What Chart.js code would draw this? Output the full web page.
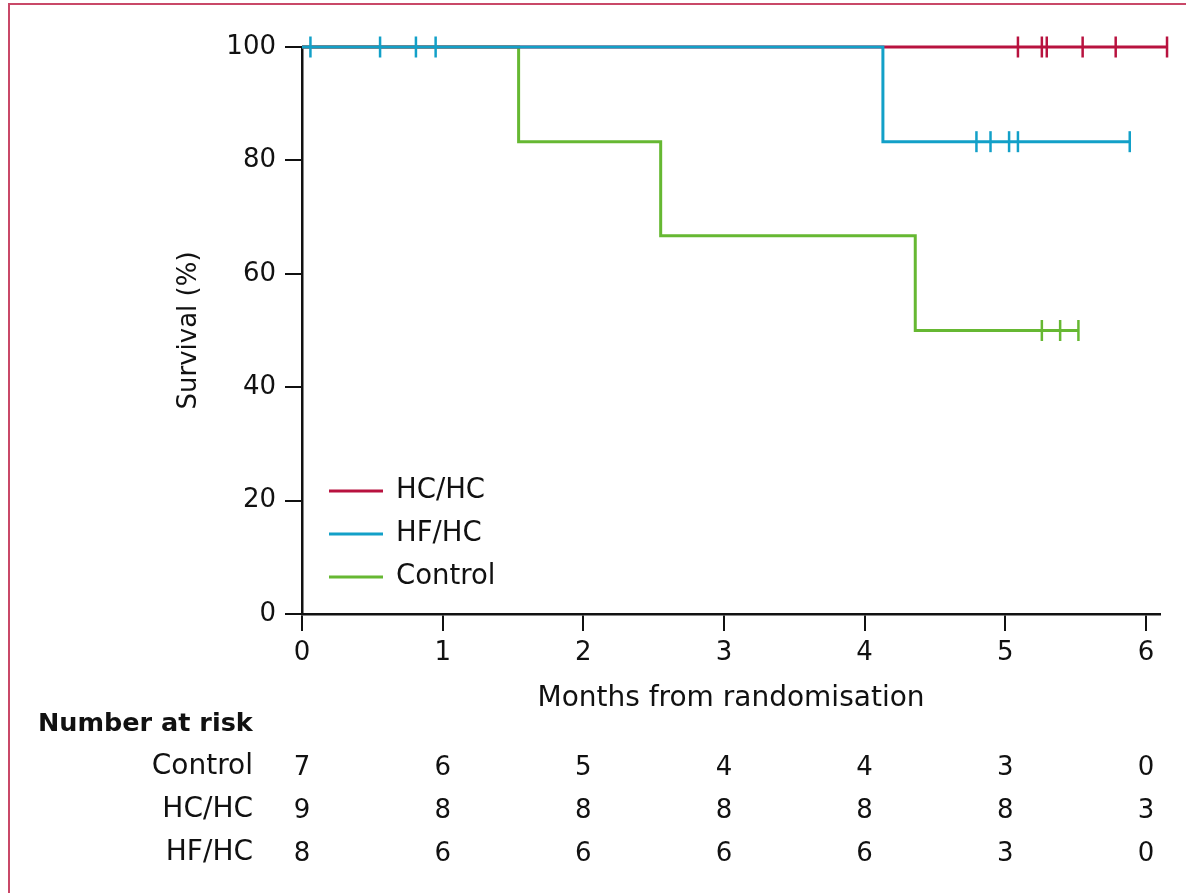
<!DOCTYPE html>
<html>
<head>
<meta charset="utf-8">
<script src="https://cdn.jsdelivr.net/npm/chart.js@4"></script>
<style>
  html, body { margin: 0; padding: 0; background: #fff; }
  #wrap { width: 1186px; height: 893px; position: relative; }
</style>
</head>
<body>
<div id="wrap"><canvas id="km"></canvas></div>
<script>
// Kaplan-Meier step data (months, survival %)
const controlTimes = [0, 1.54, 2.55, 4.36, 5.52];
const controlSurv = [100, 83.3, 66.7, 50, 50];
const controlCensor = [5.26, 5.39, 5.52];

const hchcTimes = [0, 6.15];
const hchcSurv = [100, 100];
const hchcCensor = [5.09, 5.26, 5.295, 5.55, 5.785, 6.15];

const hfhcTimes = [0, 4.13, 5.885];
const hfhcSurv = [100, 83.3, 83.3];
const hfhcCensor = [0.06, 0.555, 0.81, 0.95, 4.795, 4.895, 5.027, 5.09, 5.885];

// Number at risk table
const riskMonths = [0, 1, 2, 3, 4, 5, 6];
const riskGroups = ['Control', 'HC/HC', 'HF/HC'];
const riskControl = [7, 6, 5, 4, 4, 3, 0];
const riskHchc = [9, 8, 8, 8, 8, 8, 3];
const riskHfhc = [8, 6, 6, 6, 6, 3, 0];

const RED = '#b8123f';
const BLUE = '#12a0c8';
const GREEN = '#66b832';
const FONT = "'DejaVu Sans', sans-serif";

function toPoints(times, surv) {
  return times.map((t, i) => ({ x: t, y: surv[i] }));
}

// survival value of the step curve at time t
function survAt(times, surv, t) {
  let v = surv[0];
  for (let i = 0; i < times.length; i++) {
    if (times[i] <= t + 1e-9) v = surv[i];
  }
  return v;
}

function censorPoints(censor, times, surv) {
  return censor.map(t => ({ x: t, y: survAt(times, surv, t) }));
}

function stepSet(label, times, surv, color, order) {
  return {
    type: 'line',
    label: label,
    data: toPoints(times, surv),
    borderColor: color,
    backgroundColor: color,
    borderWidth: 3,
    stepped: true,
    pointRadius: 0,
    fill: false,
    clip: false,
    order: order,
    isCurve: true
  };
}

function censorSet(label, pts, color) {
  return {
    type: 'scatter',
    label: label,
    data: pts,
    borderColor: color,
    backgroundColor: color,
    pointStyle: 'line',
    rotation: 90,
    pointRadius: 10.5,
    pointBorderWidth: 2.5,
    showLine: false,
    clip: false,
    order: -1
  };
}

// legend drawn inside the plot, risk table below, frame round the figure
const extrasPlugin = {
  id: 'extras',
  beforeDraw(chart) {
    const ctx = chart.ctx;
    ctx.save();
    ctx.strokeStyle = 'rgba(192, 40, 78, 0.85)';
    ctx.lineWidth = 2;
    ctx.beginPath();
    ctx.moveTo(9, 900);
    ctx.lineTo(9, 4);
    ctx.lineTo(1200, 4);
    ctx.stroke();
    ctx.restore();
  },
  afterDraw(chart) {
    const ctx = chart.ctx;
    const xs = chart.scales.x;
    ctx.save();
    ctx.fillStyle = '#111';
    ctx.textBaseline = 'middle';

    // legend
    const curves = chart.data.datasets.filter(d => d.isCurve);
    const legendY = [491, 534, 577];
    curves.forEach((d, i) => {
      ctx.strokeStyle = d.borderColor;
      ctx.lineWidth = 3;
      ctx.beginPath();
      ctx.moveTo(329, legendY[i]);
      ctx.lineTo(383, legendY[i]);
      ctx.stroke();
      ctx.font = '27.5px ' + FONT;
      ctx.textAlign = 'left';
      ctx.fillText(d.label, 396, legendY[i]);
    });

    // number at risk
    ctx.font = 'bold 25.5px ' + FONT;
    ctx.textAlign = 'left';
    ctx.fillText('Number at risk', 38, 724);
    const rows = [riskControl, riskHchc, riskHfhc];
    const rowY = [767, 810, 853];
    rows.forEach((vals, r) => {
      ctx.font = '28px ' + FONT;
      ctx.textAlign = 'right';
      ctx.fillText(riskGroups[r], 253, rowY[r]);
      ctx.font = '26px ' + FONT;
      ctx.textAlign = 'center';
      vals.forEach((v, i) => {
        ctx.fillText(String(v), xs.getPixelForValue(riskMonths[i]), rowY[r] + 1);
      });
    });
    ctx.restore();
  }
};

const ctx = document.getElementById('km').getContext('2d');
new Chart(ctx, {
  data: {
    datasets: [
      stepSet('HC/HC', hchcTimes, hchcSurv, RED, 1),
      stepSet('HF/HC', hfhcTimes, hfhcSurv, BLUE, 0),
      stepSet('Control', controlTimes, controlSurv, GREEN, 2),
      censorSet('HC/HC censored', censorPoints(hchcCensor, hchcTimes, hchcSurv), RED),
      censorSet('HF/HC censored', censorPoints(hfhcCensor, hfhcTimes, hfhcSurv), BLUE),
      censorSet('Control censored', censorPoints(controlCensor, controlTimes, controlSurv), GREEN)
    ]
  },
  options: {
    responsive: true,
    maintainAspectRatio: false,
    animation: false,
    events: [],
    layout: {
      padding: { left: 0, top: 47, right: 26, bottom: 175 }
    },
    plugins: {
      legend: { display: false },
      tooltip: { enabled: false }
    },
    scales: {
      x: {
        type: 'linear',
        min: 0,
        max: 6.1,
        afterFit: (scale) => { scale.height = 104; },
        border: { display: true, color: '#111', width: 2.5 },
        grid: { drawOnChartArea: false, drawTicks: true, tickLength: 17, color: '#111', lineWidth: 2 },
        ticks: {
          stepSize: 1,
          includeBounds: false,
          color: '#111',
          padding: 7,
          maxRotation: 0,
          font: { size: 26, family: FONT }
        },
        title: {
          display: true,
          text: 'Months from randomisation',
          color: '#111',
          padding: { top: 0, bottom: 2 },
          font: { size: 28, family: FONT }
        }
      },
      y: {
        type: 'linear',
        min: 0,
        max: 100,
        afterFit: (scale) => { scale.width = 302; },
        border: { display: true, color: '#111', width: 2.5 },
        grid: { drawOnChartArea: false, drawTicks: true, tickLength: 17, color: '#111', lineWidth: 2 },
        ticks: {
          stepSize: 20,
          color: '#111',
          padding: 9,
          font: { size: 26, family: FONT }
        },
        title: {
          display: true,
          text: 'Survival (%)',
          color: '#111',
          padding: { top: 174, bottom: 0 },
          font: { size: 26, family: FONT }
        }
      }
    }
  },
  plugins: [extrasPlugin]
});
</script>
</body>
</html>
